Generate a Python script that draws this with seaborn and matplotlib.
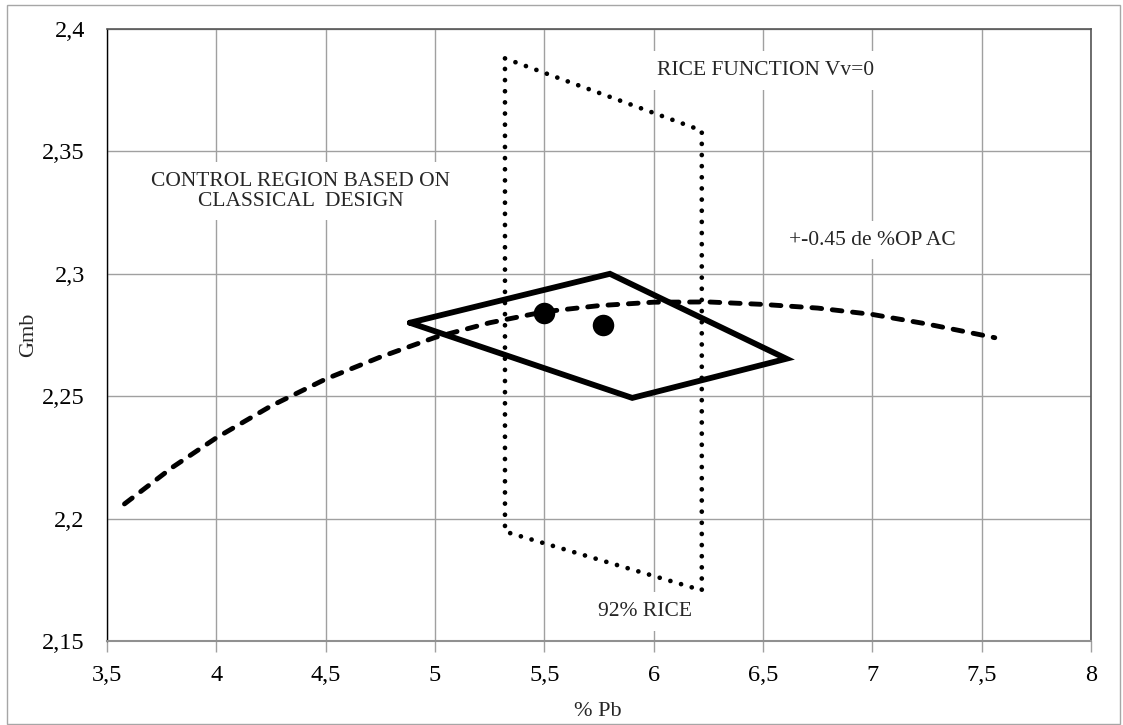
import matplotlib
matplotlib.use("Agg")
import matplotlib.pyplot as plt
import seaborn as sns
import pandas as pd
from matplotlib.patches import Rectangle

# ---------------- data ----------------
curve_pb = [3.58, 3.8, 4.0, 4.25, 4.5, 4.75, 5.0, 5.25, 5.5, 5.75, 6.0, 6.25, 6.5, 6.75, 7.0, 7.25, 7.5, 7.56]
curve_gmb = [2.206, 2.221, 2.233, 2.246, 2.257, 2.266, 2.274, 2.280, 2.2845, 2.287, 2.2884, 2.2885,
             2.2875, 2.286, 2.2834, 2.2795, 2.275, 2.2739]

control_pb = [4.885, 5.80, 6.607, 5.902, 4.885]
control_gmb = [2.280, 2.300, 2.2653, 2.2493, 2.280]

rice_pb = [5.32, 6.22, 6.22, 5.32, 5.32]
rice_gmb = [2.388, 2.3585, 2.1707, 2.1947, 2.388]

points_pb = [5.50, 5.77]
points_gmb = [2.284, 2.279]

x_ticks = [3.5, 4, 4.5, 5, 5.5, 6, 6.5, 7, 7.5, 8]
y_ticks = [2.15, 2.2, 2.25, 2.3, 2.35, 2.4]
x_tick_labels = ["3,5", "4", "4,5", "5", "5,5", "6", "6,5", "7", "7,5", "8"]
y_tick_labels = ["2,15", "2,2", "2,25", "2,3", "2,35", "2,4"]

# ---------------- style ----------------
sns.set_theme(style="white")
plt.rcParams["font.family"] = ["Liberation Serif", "DejaVu Serif"]

fig = plt.figure(figsize=(11.23, 7.25), dpi=100)
ax = fig.add_axes([107 / 1123, 1 - 641 / 725, (1091 - 107) / 1123, (641 - 29) / 725])

# outer border
fig.patches.append(Rectangle((7 / 1123, 1 / 725), (1120 - 7) / 1123, (720 - 1) / 725,
                             transform=fig.transFigure, fill=False,
                             edgecolor="#a6a6a6", linewidth=1.0, zorder=0))

curve_df = pd.DataFrame({"pb": curve_pb, "gmb": curve_gmb})
control_df = pd.DataFrame({"pb": control_pb, "gmb": control_gmb})
rice_df = pd.DataFrame({"pb": rice_pb, "gmb": rice_gmb})
pts_df = pd.DataFrame({"pb": points_pb, "gmb": points_gmb})

sns.lineplot(data=rice_df, x="pb", y="gmb", sort=False, ax=ax, color="black",
             linewidth=3.4, estimator=None)
rl = ax.lines[-1]
rl.set_linestyle((0, (0.01, 2.35)))
rl.set_dash_capstyle("round")

sns.lineplot(data=curve_df, x="pb", y="gmb", sort=False, ax=ax, color="black",
             linewidth=3.5, estimator=None)
cl = ax.lines[-1]
cl.set_linestyle((0, (2.0, 2.2)))
cl.set_dash_capstyle("round")

sns.lineplot(data=control_df, x="pb", y="gmb", sort=False, ax=ax, color="black",
             linewidth=4.2, estimator=None)
ax.lines[-1].set_solid_joinstyle("miter")

sns.scatterplot(data=pts_df, x="pb", y="gmb", ax=ax, color="black", s=240,
                edgecolor="black", linewidth=0, zorder=5)

ax.set_xlim(3.5, 8)
ax.set_ylim(2.15, 2.4)
ax.set_xticks(x_ticks)
ax.set_xticklabels(x_tick_labels)
ax.set_yticks(y_ticks)
ax.set_yticklabels(y_tick_labels)
ax.tick_params(axis="both", labelsize=17.5, colors="black")
ax.tick_params(axis="x", bottom=True, length=8, width=1, color="#a0a0a0", pad=9)
ax.tick_params(axis="y", left=False, length=0, pad=16)
ax.grid(True, color="#a0a0a0", linewidth=1.0)
ax.set_axisbelow(True)

for side in ["top", "right"]:
    ax.spines[side].set_color("#555555")
    ax.spines[side].set_linewidth(1.2)
ax.spines["left"].set_color("black")
ax.spines["left"].set_linewidth(1.0)
ax.spines["bottom"].set_color("#909090")
ax.spines["bottom"].set_linewidth(1.5)

ax.set_xlabel("% Pb", fontsize=16)
ax.set_ylabel("Gmb", fontsize=16)
ax.xaxis.set_label_coords((598 - 107) / 984, (641 - 702) / 612)
ax.yaxis.set_label_coords((38 - 107) / 984, (641 - 335) / 612)

box = dict(facecolor="white", edgecolor="none", pad=7)
fs = 15.5
ax.text(6.51, 2.383, "RICE FUNCTION Vv=0", ha="center", va="center", fontsize=fs, bbox=box, zorder=4)
ax.text(4.385, 2.3337, "CONTROL REGION BASED ON\nCLASSICAL  DESIGN", ha="center", va="center",
        fontsize=fs, bbox=box, zorder=4, linespacing=1.05)
ax.text(7.0, 2.3137, "+-0.45 de %OP AC", ha="center", va="center", fontsize=fs, bbox=box, zorder=4)
ax.text(5.96, 2.162, "92% RICE", ha="center", va="center", fontsize=fs, bbox=box, zorder=4)

fig.savefig("out.png", dpi=100)
